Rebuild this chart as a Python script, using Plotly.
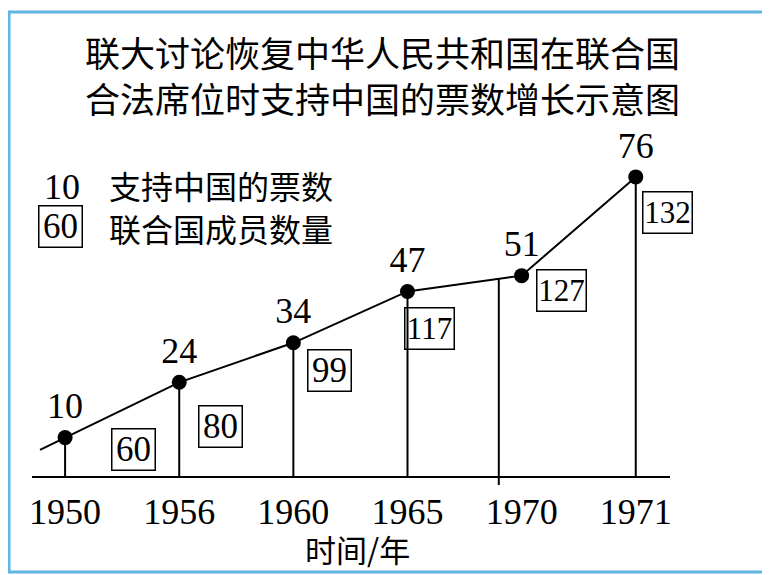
import numpy as np
import plotly.graph_objects as go

# data
years = ["1950", "1956", "1960", "1965", "1970", "1971"]
votes = [10, 24, 34, 47, 51, 76]          # 支持中国的票数
members = [60, 80, 99, 117, 127, 132]     # 联合国成员数量

title_lines = ["联大讨论恢复中华人民共和国在联合国", "合法席位时支持中国的票数增长示意图"]
legend_labels = ["支持中国的票数", "联合国成员数量"]
x_title = "时间/年"

SERIF = "Liberation Serif, Times New Roman, serif"
CJK = "Noto Sans CJK SC"

# page body adds an 8px margin, so the figure is a bit smaller than the window
OFF = 8
W, H = 762, 567
L, R, T, B = 24, 100, 112, 88
PW, PH = W - L - R, H - T - B


def px(x):
    # window pixel -> paper x
    return (x - OFF - L) / PW


def py(y):
    # window pixel -> paper y
    return 1 - (y - OFF - T) / PH


idx = np.arange(len(years))

# line starts a little before 1950, continuing the first segment
lead = 0.22
x_line = [idx[0] - lead] + list(idx)
y_line = [votes[0] - lead * (votes[1] - votes[0])] + votes

# stems: the 1970 one stands a bit left of its point and only reaches the line
stem_dx = [0, 0, 0, 0, -0.2, 0]
sx, sy = [], []
for i, v in enumerate(votes):
    xs = idx[i] + stem_dx[i]
    if stem_dx[i]:
        sx += [xs, xs, None]
        sy += [-2, float(np.interp(xs, idx, votes)), None]
    else:
        sx += [xs, xs, None]
        sy += [0, v, None]

fig = go.Figure()
fig.add_trace(go.Scatter(x=[-0.29, 5.3], y=[0, 0], mode="lines",
                         line=dict(color="black", width=2), hoverinfo="skip"))
fig.add_trace(go.Scatter(x=sx, y=sy, mode="lines",
                         line=dict(color="black", width=2), hoverinfo="skip"))
fig.add_trace(go.Scatter(x=x_line, y=y_line, mode="lines",
                         line=dict(color="black", width=2), hoverinfo="skip"))
fig.add_trace(go.Scatter(x=idx, y=votes, mode="markers+text",
                         marker=dict(color="black", size=15),
                         text=[str(v) for v in votes], textposition="top center",
                         textfont=dict(family=SERIF, size=36, color="black"),
                         cliponaxis=False))

# member-count boxes beside each point
box_shift = [(68, -12), (41, -44), (36, -28), (22, -37), (40, -15), (32, -36)]
for i, m in enumerate(members):
    dx, dy = box_shift[i]
    three = len(str(m)) == 3
    fig.add_annotation(x=idx[i], y=votes[i], text=str(m), showarrow=False,
                       xshift=dx, yshift=dy, width=46 if three else 40, height=38,
                       bordercolor="black", borderwidth=1.5, borderpad=1,
                       font=dict(family=SERIF, size=31 if three else 35, color="black"))

# title
for k, line in enumerate(title_lines):
    fig.add_annotation(xref="paper", yref="paper", x=px(382), y=py(51 + 46 * k),
                       xanchor="center", yanchor="middle", text=line, showarrow=False,
                       font=dict(family=CJK, size=35, color="black"))

# legend block
fig.add_annotation(xref="paper", yref="paper", x=px(62), y=py(187),
                   xanchor="center", yanchor="middle", text="10", showarrow=False,
                   font=dict(family=SERIF, size=36, color="black"))
fig.add_annotation(xref="paper", yref="paper", x=px(60), y=py(226),
                   xanchor="center", yanchor="middle", text="60", showarrow=False,
                   width=40, height=38, bordercolor="black", borderwidth=1.5, borderpad=1,
                   font=dict(family=SERIF, size=35, color="black"))
for k, lab in enumerate(legend_labels):
    fig.add_annotation(xref="paper", yref="paper", x=px(107), y=py(185 + 43 * k),
                       xanchor="left", yanchor="middle", text=lab, showarrow=False,
                       font=dict(family=CJK, size=32, color="black"))

# axis title
fig.add_annotation(xref="paper", yref="paper", x=px(357), y=py(548),
                   xanchor="center", yanchor="middle", text=x_title, showarrow=False,
                   font=dict(family=CJK, size=31, color="black"))

# light blue frame
fig.add_shape(type="rect", xref="paper", yref="paper",
              x0=px(9), x1=px(767), y0=py(572), y1=py(12),
              line=dict(color="#5fb6e3", width=3))

fig.update_layout(
    width=W, height=H,
    margin=dict(l=L, r=R, t=T, b=B),
    paper_bgcolor="white", plot_bgcolor="white",
    showlegend=False,
    xaxis=dict(range=[-0.29, 5.3], tickvals=idx, ticktext=years, showgrid=False,
               zeroline=False, showline=False, ticks="",
               tickfont=dict(family=SERIF, size=36, color="black")),
    yaxis=dict(range=[-2.5, 90.4], showgrid=False, zeroline=False,
               showticklabels=False, showline=False),
)

fig.write_html("out.html")
